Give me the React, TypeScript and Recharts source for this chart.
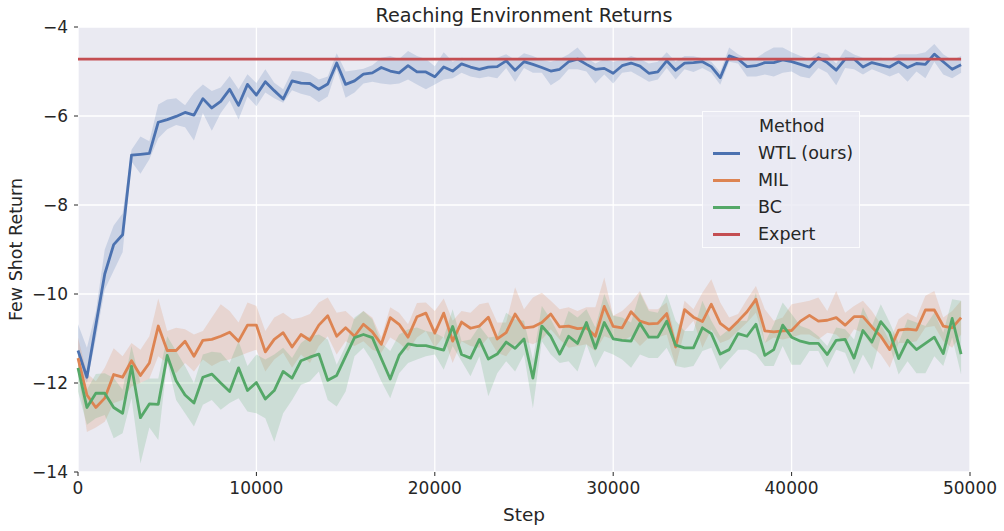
import { ComposedChart, Line, Area, XAxis, YAxis, CartesianGrid, Label } from 'recharts';

// steps logged every 500 env steps
const STEPS = Array.from({ length: 100 }, (_, i) => i * 500);

const X_TICKS = [0, 10000, 20000, 30000, 40000, 50000];
const Y_TICKS = [-14, -12, -10, -8, -6, -4];

const EXPERT_RETURN = -4.72;

const WTL_MEAN = [
  -11.27, -11.87, -10.7, -9.55, -8.89, -8.67, -6.88, -6.86, -6.84, -6.14,
  -6.08, -6.01, -5.92, -5.98, -5.61, -5.82, -5.67, -5.4, -5.76, -5.29,
  -5.53, -5.23, -5.43, -5.62, -5.21, -5.26, -5.27, -5.4, -5.28, -4.81,
  -5.29, -5.21, -5.06, -5.03, -4.91, -4.99, -5.03, -4.87, -5.01, -5.01,
  -5.12, -4.9, -4.99, -4.83, -4.9, -4.95, -4.9, -4.89, -4.76, -4.97,
  -4.78, -4.84, -4.91, -4.99, -4.95, -4.78, -4.72, -4.84, -4.95, -4.93,
  -5.04, -4.87, -4.81, -4.88, -5.04, -5.01, -4.76, -4.97, -4.81, -4.8,
  -4.78, -4.89, -5.14, -4.65, -4.72, -4.89, -4.87, -4.8, -4.8, -4.74,
  -4.78, -4.84, -4.9, -4.69, -4.8, -4.97, -4.72, -4.72, -4.9, -4.8,
  -4.85, -4.9, -4.78, -4.91, -4.82, -4.84, -4.61, -4.78, -4.95, -4.85,
];
const WTL_HI = [
  -10.68, -11.21, -10.4, -9.0, -8.46, -8.19, -6.76, -6.46, -6.57, -5.74,
  -5.63, -5.6, -5.76, -5.48, -5.29, -5.44, -5.36, -5.1, -5.4, -5.06,
  -5.26, -4.95, -5.25, -5.4, -4.99, -5.0, -5.05, -5.18, -5.11, -4.59,
  -5.0, -4.97, -4.94, -4.86, -4.69, -4.65, -4.72, -4.54, -4.65, -4.72,
  -4.88, -4.57, -4.78, -4.69, -4.72, -4.74, -4.72, -4.69, -4.61, -4.74,
  -4.59, -4.65, -4.74, -4.78, -4.72, -4.61, -4.46, -4.69, -4.82, -4.72,
  -4.78, -4.74, -4.65, -4.72, -4.82, -4.78, -4.57, -4.78, -4.65, -4.66,
  -4.7, -4.78, -5.01, -4.46, -4.61, -4.72, -4.7, -4.57, -4.46, -4.46,
  -4.57, -4.65, -4.72, -4.57, -4.61, -4.82, -4.5, -4.62, -4.69, -4.69,
  -4.69, -4.72, -4.61, -4.61, -4.61, -4.57, -4.38, -4.61, -4.74, -4.65,
];
const WTL_LO = [
  -11.6, -12.0, -11.0, -9.9, -9.48, -9.06, -7.02, -7.3, -6.97, -6.5,
  -6.3, -6.2, -6.25, -6.55, -5.93, -6.33, -5.93, -5.66, -6.08, -5.56,
  -5.78, -5.47, -5.6, -5.7, -5.42, -5.5, -5.55, -5.69, -5.56, -4.95,
  -5.59, -5.47, -5.27, -5.23, -5.27, -5.29, -5.27, -5.18, -5.29, -5.4,
  -5.29, -5.18, -5.15, -5.03, -5.11, -5.15, -5.11, -5.15, -4.92, -5.23,
  -4.92, -5.03, -5.03, -5.31, -5.18, -4.95, -4.95, -5.0, -5.27, -5.07,
  -5.27, -5.03, -5.0, -5.11, -5.23, -5.18, -4.92, -5.18, -4.95, -5.01,
  -4.92, -5.03, -5.3, -4.78, -4.82, -5.11, -5.11, -5.07, -5.11, -5.03,
  -5.0, -5.11, -5.15, -4.92, -5.03, -5.31, -4.92, -4.95, -5.07, -4.95,
  -5.03, -5.11, -5.03, -5.23, -5.0, -5.15, -4.78, -5.07, -5.15, -5.03,
];

const MIL_MEAN = [
  -11.44, -12.27, -12.55, -12.34, -11.81, -11.87, -11.5, -11.83, -11.55, -10.72,
  -11.27, -11.27, -11.06, -11.4, -11.04, -11.02, -10.95, -10.86, -11.06, -10.7,
  -10.7, -11.3, -11.02, -10.87, -11.19, -10.91, -11.04, -10.7, -10.49, -10.95,
  -10.76, -10.95, -10.68, -10.85, -11.13, -10.53, -10.68, -10.97, -10.51, -10.43,
  -10.88, -10.43, -11.06, -10.63, -10.77, -10.72, -10.52, -11.01, -10.87, -10.45,
  -10.76, -10.74, -10.64, -10.45, -10.74, -10.72, -10.78, -10.76, -10.95, -10.28,
  -10.73, -10.76, -10.4, -10.61, -10.67, -10.66, -10.44, -11.19, -10.35, -10.52,
  -10.62, -10.23, -10.66, -10.81, -10.61, -10.4, -10.12, -10.83, -10.85, -10.83,
  -10.82, -10.61, -10.48, -10.61, -10.59, -10.53, -10.7, -10.51, -10.51, -10.74,
  -10.95, -11.25, -10.81, -10.79, -10.81, -10.36, -10.36, -10.72, -10.76, -10.53,
];
const MIL_HI = [
  -10.98, -11.78, -11.96, -11.66, -11.22, -11.4, -11.1, -11.25, -10.95, -10.1,
  -10.83, -10.76, -10.79, -10.91, -10.83, -10.53, -10.23, -10.38, -10.64, -10.19,
  -10.27, -10.83, -10.53, -10.42, -10.57, -10.53, -10.45, -10.19, -10.08, -10.42,
  -10.38, -10.57, -10.38, -10.53, -10.98, -10.3, -10.42, -10.68, -10.2, -10.19,
  -10.38, -10.1, -10.6, -10.38, -10.42, -10.23, -10.19, -10.64, -10.64, -9.85,
  -10.34, -10.08, -9.97, -10.15, -10.34, -10.3, -10.38, -10.3, -10.3, -9.63,
  -10.49, -10.38, -10.19, -9.93, -10.34, -10.34, -10.19, -11.0, -10.15, -10.34,
  -9.97, -9.67, -10.19, -10.53, -10.45, -10.12, -9.82, -10.34, -10.6, -10.53,
  -10.23, -10.19, -10.15, -10.08, -10.38, -9.93, -10.42, -10.27, -10.15, -10.38,
  -10.68, -11.06, -10.57, -10.42, -10.53, -10.04, -9.93, -10.53, -10.38, -10.15,
];
const MIL_LO = [
  -11.74, -13.1, -13.0, -12.87, -12.45, -12.38, -12.08, -12.0, -11.9, -11.4,
  -11.55, -11.78, -11.55, -11.74, -11.47, -11.62, -11.51, -11.47, -11.4, -11.32,
  -11.25, -11.74, -11.47, -11.32, -11.66, -11.36, -11.55, -11.17, -10.95, -11.36,
  -11.06, -11.17, -11.06, -11.25, -11.32, -10.98, -11.1, -11.28, -10.98, -10.83,
  -11.21, -10.95, -11.55, -11.06, -11.17, -11.21, -10.98, -11.32, -11.4, -11.13,
  -11.06, -11.13, -11.02, -10.79, -11.02, -11.21, -11.17, -11.13, -11.28, -10.95,
  -11.02, -11.06, -10.95, -11.17, -10.98, -10.98, -10.91, -11.62, -10.83, -10.6,
  -11.21, -10.79, -11.1, -11.02, -10.83, -10.64, -10.42, -11.1, -10.98, -11.02,
  -10.98, -10.91, -10.91, -11.02, -10.87, -10.91, -11.1, -10.79, -10.87, -11.17,
  -11.36, -11.66, -11.1, -11.1, -11.06, -10.75, -10.72, -11.06, -11.21, -10.91,
];

const BC_MEAN = [
  -11.66, -12.55, -12.23, -12.23, -12.55, -12.68, -11.62, -12.78, -12.47, -12.48,
  -11.38, -11.95, -12.27, -12.45, -11.87, -11.8, -12.0, -12.19, -11.66, -12.17,
  -11.99, -12.36, -12.17, -11.74, -11.89, -11.5, -11.42, -11.35, -11.94, -11.83,
  -11.4, -10.98, -10.91, -10.98, -11.45, -11.91, -11.38, -11.12, -11.16, -11.16,
  -11.21, -11.26, -10.73, -11.36, -11.44, -11.02, -11.46, -11.35, -11.08, -11.22,
  -11.01, -11.89, -10.72, -10.95, -11.35, -10.95, -11.11, -10.64, -11.22, -10.64,
  -11.01, -11.04, -11.06, -10.66, -10.97, -10.97, -10.61, -11.15, -11.21, -11.21,
  -10.76, -10.89, -11.35, -11.25, -10.89, -10.95, -10.68, -11.38, -11.25, -10.7,
  -10.97, -11.06, -11.11, -11.11, -11.36, -11.04, -11.02, -11.44, -10.82, -11.08,
  -10.62, -10.87, -11.45, -11.04, -11.25, -11.11, -10.97, -11.34, -10.55, -11.35,
];
const BC_HI = [
  -11.4, -12.15, -11.8, -11.78, -11.89, -12.15, -11.17, -12.0, -11.9, -11.9,
  -10.95, -11.28, -11.62, -12.0, -11.36, -11.3, -11.32, -11.55, -11.06, -11.62,
  -11.36, -11.47, -11.36, -11.21, -11.44, -11.1, -10.95, -10.91, -11.02, -11.59,
  -11.17, -10.53, -10.38, -10.57, -11.1, -11.28, -10.91, -10.79, -10.75, -10.83,
  -10.87, -10.98, -10.34, -11.06, -11.02, -10.72, -10.98, -10.95, -10.42, -10.57,
  -10.6, -11.47, -10.27, -10.57, -10.95, -10.38, -10.53, -10.34, -10.75, -10.0,
  -10.49, -10.53, -10.64, -9.97, -10.38, -10.42, -10.0, -10.6, -10.83, -10.83,
  -10.15, -10.6, -10.95, -10.79, -10.6, -10.6, -9.97, -11.1, -10.68, -10.19,
  -10.45, -10.72, -10.79, -10.95, -11.17, -10.75, -10.79, -11.02, -10.3, -10.72,
  -10.23, -10.64, -11.1, -10.57, -10.64, -10.72, -10.42, -10.87, -10.12, -10.15,
];
const BC_LO = [
  -12.19, -12.94, -12.79, -12.72, -13.24, -13.13, -12.34, -13.81, -13.0, -13.28,
  -11.51, -12.38, -12.68, -12.98, -12.49, -12.38, -12.6, -12.45, -12.34, -12.64,
  -12.68, -12.79, -13.32, -12.68, -12.38, -12.04, -11.96, -11.74, -12.38, -12.53,
  -12.19, -11.4, -11.21, -11.51, -11.96, -12.34, -11.78, -11.55, -11.47, -11.4,
  -11.36, -11.7, -11.17, -11.51, -11.85, -11.4, -12.3, -11.78, -11.51, -11.74,
  -11.36, -12.57, -11.06, -11.36, -11.55, -11.51, -11.74, -11.13, -11.66, -11.28,
  -11.36, -11.47, -11.66, -11.36, -11.44, -11.44, -11.21, -11.62, -11.66, -11.62,
  -11.28, -11.21, -11.7, -11.47, -11.25, -11.25, -11.36, -11.62, -11.62, -11.17,
  -11.59, -11.59, -11.28, -11.28, -11.66, -11.25, -11.32, -11.81, -11.36, -11.7,
  -10.98, -11.17, -11.81, -11.51, -11.78, -11.78, -11.4, -11.62, -10.98, -11.81,
];

const COLORS = {
  wtl: '#4C72B0',
  mil: '#DD8452',
  bc: '#55A868',
  expert: '#C44E52',
};

const LEGEND_ITEMS = [
  { label: 'WTL (ours)', color: COLORS.wtl },
  { label: 'MIL', color: COLORS.mil },
  { label: 'BC', color: COLORS.bc },
  { label: 'Expert', color: COLORS.expert },
];

const FONT = '"DejaVu Sans", sans-serif';
const TEXT = '#262626';

const rows = STEPS.map((step, i) => ({
  step,
  wtl: WTL_MEAN[i],
  wtlBand: [WTL_LO[i], WTL_HI[i]],
  mil: MIL_MEAN[i],
  milBand: [MIL_LO[i], MIL_HI[i]],
  bc: BC_MEAN[i],
  bcBand: [BC_LO[i], BC_HI[i]],
  expert: EXPERT_RETURN,
}));

const fmtNum = (v: number) => (v < 0 ? `\u2212${Math.abs(v)}` : `${v}`);

const YTick = ({ x, y, payload }: any) => (
  <text x={x} y={y} textAnchor="end" dominantBaseline="central" fill={TEXT} fontSize={17} fontFamily={FONT}>
    {fmtNum(payload.value)}
  </text>
);

const XTick = ({ x, y, payload }: any) => (
  <text x={x} y={y} textAnchor="middle" dy="0.72em" fill={TEXT} fontSize={17} fontFamily={FONT}>
    {fmtNum(payload.value)}
  </text>
);

// rotated y label, baseline sits at x=22 like the matplotlib one
const YLabel = ({ viewBox }: any) => {
  const cy = viewBox ? viewBox.y + viewBox.height / 2 : 249.5;
  return (
    <text
      x={22}
      y={cy}
      transform={`rotate(-90, 22, ${cy})`}
      textAnchor="middle"
      fill={TEXT}
      fontSize={17.5}
      fontFamily={FONT}
    >
      Few Shot Return
    </text>
  );
};

export default function App() {
  return (
    <div style={{ position: 'absolute', left: 0, top: 0, width: 1004, height: 531, background: '#fff' }}>
      <ComposedChart
        width={1004}
        height={531}
        data={rows}
        margin={{ top: 27, right: 34, left: 0, bottom: 0 }}
      >
        <CartesianGrid fill="#EAEAF2" stroke="#FFFFFF" strokeWidth={1.3} />
        <XAxis
          dataKey="step"
          type="number"
          domain={[0, 50000]}
          ticks={X_TICKS}
          height={59}
          axisLine={false}
          tickSize={4}
          tickMargin={6}
          tickLine={{ stroke: TEXT, strokeWidth: 1 }}
          tick={<XTick />}
        >
          <Label
            value="Step"
            position="insideBottom"
            offset={10}
            fill={TEXT}
            fontSize={18.5}
            fontFamily={FONT}
          />
        </XAxis>
        <YAxis
          type="number"
          domain={[-14, -4]}
          ticks={Y_TICKS}
          width={78}
          axisLine={false}
          tickSize={4}
          tickMargin={6}
          tickLine={{ stroke: TEXT, strokeWidth: 1 }}
          tick={<YTick />}
        >
          <Label content={<YLabel />} />
        </YAxis>

        <Area dataKey="wtlBand" stroke="none" fill={COLORS.wtl} fillOpacity={0.2} isAnimationActive={false} activeDot={false} />
        <Line dataKey="wtl" stroke={COLORS.wtl} strokeWidth={2.8} dot={false} activeDot={false} strokeLinejoin="round" isAnimationActive={false} />
        <Area dataKey="milBand" stroke="none" fill={COLORS.mil} fillOpacity={0.2} isAnimationActive={false} activeDot={false} />
        <Line dataKey="mil" stroke={COLORS.mil} strokeWidth={2.8} dot={false} activeDot={false} strokeLinejoin="round" isAnimationActive={false} />
        <Area dataKey="bcBand" stroke="none" fill={COLORS.bc} fillOpacity={0.2} isAnimationActive={false} activeDot={false} />
        <Line dataKey="bc" stroke={COLORS.bc} strokeWidth={2.8} dot={false} activeDot={false} strokeLinejoin="round" isAnimationActive={false} />
        <Line dataKey="expert" stroke={COLORS.expert} strokeWidth={2.8} dot={false} activeDot={false} isAnimationActive={false} />
      </ComposedChart>

      {/* title */}
      <div
        style={{
          position: 'absolute',
          left: 78,
          width: 892,
          top: 7,
          textAlign: 'center',
          fontFamily: FONT,
          fontSize: 19.2,
          lineHeight: '18px',
          color: TEXT,
        }}
      >
        Reaching Environment Returns
      </div>

      {/* legend */}
      <div
        style={{
          position: 'absolute',
          left: 702,
          top: 111,
          width: 158,
          height: 137,
          boxSizing: 'border-box',
          background: 'rgba(234,234,242,0.8)',
          border: '1px solid rgba(255,255,255,0.8)',
          fontFamily: FONT,
          fontSize: 17.5,
          color: TEXT,
          paddingTop: 1,
        }}
      >
        <div style={{ height: 27, lineHeight: '27px', paddingLeft: 56 }}>Method</div>
        {LEGEND_ITEMS.map((item) => (
          <div key={item.label} style={{ height: 27, display: 'flex', alignItems: 'center' }}>
            <div style={{ marginLeft: 10, width: 27, height: 3, background: item.color }} />
            <span style={{ marginLeft: 18, lineHeight: '27px' }}>{item.label}</span>
          </div>
        ))}
      </div>
    </div>
  );
}
